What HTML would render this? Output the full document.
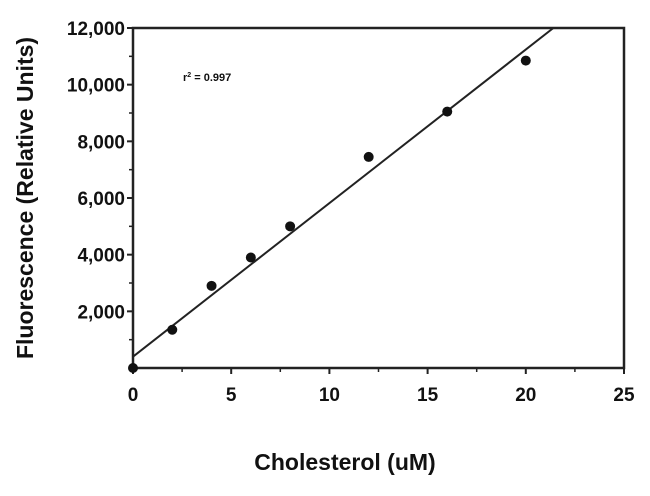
<!DOCTYPE html>
<html><head><meta charset="utf-8"><style>
body{margin:0;background:#fff;}
svg text{font-family:"Liberation Sans",Arial,sans-serif;font-weight:bold;fill:#111;}
</style></head><body>
<svg width="650" height="491">
<g id="axes"></g>
<g id="marks"></g>
<text x="183" y="81" font-size="11">r<tspan font-size="7" dy="-4">2</tspan><tspan dy="4"> = 0.997</tspan></text>
<text x="345" y="470" font-size="23" text-anchor="middle">Cholesterol (uM)</text>
<text transform="translate(33,198) rotate(-90)" font-size="23" text-anchor="middle">Fluorescence (Relative Units)</text>
</svg>
<script>
const xVals=[0,2,4,6,8,12,16,20];
const yVals=[0,1350,2900,3900,5000,7450,9050,10850];
const xTicks=[0,5,10,15,20,25];
const yTicks=[2000,4000,6000,8000,10000,12000];
const yTickLabels=["2,000","4,000","6,000","8,000","10,000","12,000"];
const fitSlope=542, fitIntercept=400;
const X=v=>133+v*(624-133)/25, Y=v=>368-v*(368-28)/12000;
const NS="http://www.w3.org/2000/svg";
function mk(t,a,p){const e=document.createElementNS(NS,t);for(const k in a)e.setAttribute(k,a[k]);p.appendChild(e);return e;}
const ax=document.getElementById('axes'), mg=document.getElementById('marks');
const frame=mk('rect',{x:X(0),y:Y(12000),width:X(25)-X(0),height:Y(0)-Y(12000),fill:'none',stroke:'#222','stroke-width':2.5},ax);


xTicks.forEach((t,i)=>{
  const l=mk('line',{x1:X(t),x2:X(t),y1:Y(0),y2:Y(0)+6,stroke:'#222','stroke-width':2},ax);
  
  
  if(i<xTicks.length-1){const m=mk('line',{x1:X(t+2.5),x2:X(t+2.5),y1:Y(0),y2:Y(0)+4,stroke:'#222','stroke-width':1.5},ax);
  
  }
  const tx=mk('text',{x:X(t),y:Y(0)+33,'font-size':19,'text-anchor':'middle'},ax);tx.textContent=t;
  
  
});
yTicks.forEach((t,i)=>{
  const l=mk('line',{x1:X(0)-6,x2:X(0),y1:Y(t),y2:Y(t),stroke:'#222','stroke-width':2},ax);
  
  
  const m=mk('line',{x1:X(0)-4,x2:X(0),y1:Y(t-1000),y2:Y(t-1000),stroke:'#222','stroke-width':1.5},ax);
  
  
  const tx=mk('text',{x:X(0)-8,y:Y(t)+7,'font-size':19,'text-anchor':'end'},ax);tx.textContent=yTickLabels[i];
  
  
});
const xEnd=(12000-fitIntercept)/fitSlope;
const fit=mk('line',{x1:X(0),y1:Y(fitIntercept),x2:X(xEnd),y2:Y(12000),stroke:'#222','stroke-width':2},mg);


xVals.forEach((v,i)=>{
  const c=mk('circle',{cx:X(v),cy:Y(yVals[i]),r:5,fill:'#111'},mg);
  
  
});
</script>
</body></html>
